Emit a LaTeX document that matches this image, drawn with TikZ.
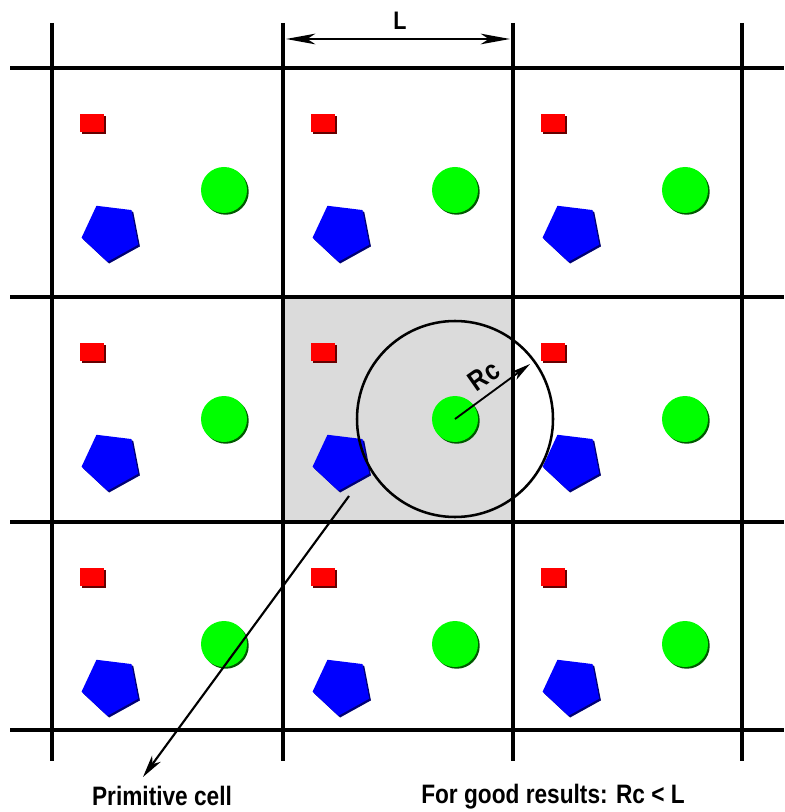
\documentclass[tikz,border=0pt]{standalone}
\usepackage{fontspec}
\newfontfamily\labelfont[FakeStretch=0.85]{Liberation Sans}
\usetikzlibrary{arrows.meta,shapes.geometric,shadows}

\begin{document}
\begin{tikzpicture}[
  x=0.75pt, y=-0.75pt,
  gridline/.style={line width=3pt},
  redbox/.style={rectangle, fill=red, minimum width=18pt, minimum height=13.5pt, inner sep=0pt,
    drop shadow={shadow xshift=1.3pt, shadow yshift=-1.3pt, fill=red!40!black, opacity=1}},
  greenball/.style={circle, fill=green, minimum size=34.5pt, inner sep=0pt,
    drop shadow={shadow xshift=1.3pt, shadow yshift=-1.3pt, fill=green!35!black, opacity=1}},
  bluepent/.style={regular polygon, regular polygon sides=5, shape border rotate=173, fill=blue,
    minimum size=45pt, inner sep=0pt,
    drop shadow={shadow xshift=1.3pt, shadow yshift=-1.3pt, fill=blue!45!black, opacity=1}},
  arrow/.style={-{Stealth[length=17pt, width=8pt, inset=5pt]}, line width=1.6pt},
  lbl/.style={font=\labelfont\bfseries\fontsize{20}{24}\selectfont, inner sep=0pt}
]
\useasboundingbox (0,0) rectangle (784,812);

% primitive cell
\fill[black!14] (283,297) rectangle (513,522);

% lattice
\foreach \gx in {52,283,513,742}
  \draw[gridline] (\gx,23) -- (\gx,761);
\foreach \gy in {68,297,522,730}
  \draw[gridline] (10,\gy) -- (784,\gy);

% atoms in every cell
\foreach \cx [count=\i] in {52,283,513}
  \foreach \cy [count=\j] in {68,297,522} {
    \node[redbox] (red-\i-\j) at (\cx+40,\cy+55) {};
    \node[greenball] (green-\i-\j) at (\cx+172,\cy+122) {};
    \node[bluepent] (blue-\i-\j) at (\cx+59,\cy+164) {};
  }

% cutoff sphere
\draw[line width=1.9pt] (green-2-2.center) circle[radius=98];
\coordinate (rcend) at (530,364);
\draw[-{Stealth[length=15pt, width=7pt, inset=4pt]}, line width=1.4pt]
  (green-2-2.center) -- (rcend);
\node[lbl, rotate=35, font=\labelfont\bfseries\fontsize{21}{24}\selectfont] (rctext) at (484,376) {Rc};

% cell size
\node[lbl, font=\labelfont\bfseries\fontsize{19}{22}\selectfont] (ltext) at (400,21) {L};
\coordinate (lleft) at (286,39);
\coordinate (lright) at (510,39);
\draw[{Stealth[length=22pt, width=8pt, inset=6pt]}-{Stealth[length=22pt, width=8pt, inset=6pt]}, line width=1.3pt]
  (lleft) -- (lright);

% labels below
\node[lbl] (primtext) at (162,796) {Primitive cell};
\node[lbl] (goodtext) at (553,797) {For good results: Rc < L};
\coordinate (primstart) at (349,496);
\coordinate (primtip) at (143,777);
\draw[arrow] (primstart) -- (primtip);
\end{tikzpicture}
\end{document}
